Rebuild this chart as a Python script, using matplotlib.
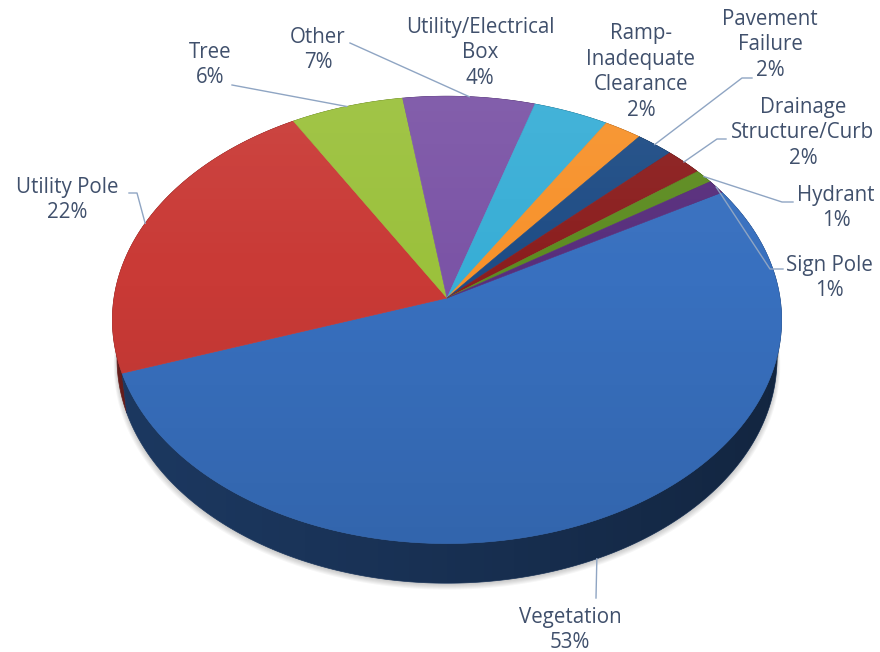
import numpy as np
import matplotlib
matplotlib.use("Agg")
from matplotlib import pyplot as plt
from matplotlib.patches import Polygon
from matplotlib.colors import to_rgb

# slice data, clockwise from the upper right
categories = ["Vegetation", "Utility Pole", "Tree", "Other",
              "Utility/Electrical\nBox", "Ramp-\nInadequate\nClearance",
              "Pavement\nFailure", "Drainage\nStructure/Curb", "Hydrant", "Sign Pole"]
shares = [53, 22, 6, 7, 4, 2, 2, 2, 1, 1]
colors = ["#3870BF", "#C93A36", "#9BC13C", "#7B54A6", "#38AED6",
          "#F7922B", "#1E4C85", "#8B1E1E", "#5D8C21", "#582E7C"]

# label centres and leader elbows (pixels)
label_xy = [(570, 630), (67, 200), (210, 65), (318, 50), (480, 53),
            (641, 72), (770, 45), (803, 133), (836, 208), (829, 278)]
leader_pts = [[(596, 598)], [(129, 193), (137, 193)], [(232, 85)], [(350, 43)], None,
              None, [(752, 78), (742, 78)], [(726, 139), (717, 139)],
              [(793, 202), (782, 202)], [(783, 269), (770, 269)]]

# view / projection of the disk
cx, cy, s = 447, 298, 333
elev = np.radians(41.7)
D = 7.64
h = 0.16
start = 30.0
ce, se = np.cos(elev), np.sin(elev)


def proj(theta_deg, z):
    t = np.radians(theta_deg)
    X, Y = np.cos(t), np.sin(t)
    v = Y * se + z * ce
    d = -Y * ce + z * se
    k = D / (D - d)
    return cx + s * X * k, cy - s * v * k, d


def hull(pts):
    pts = sorted(map(tuple, pts))

    def cross(o, a, b):
        return (a[0] - o[0]) * (b[1] - o[1]) - (a[1] - o[1]) * (b[0] - o[0])
    lo, up = [], []
    for p in pts:
        while len(lo) >= 2 and cross(lo[-2], lo[-1], p) <= 0:
            lo.pop()
        lo.append(p)
    for p in reversed(pts):
        while len(up) >= 2 and cross(up[-2], up[-1], p) <= 0:
            up.pop()
        up.append(p)
    return np.array(lo[:-1] + up[:-1])


fig = plt.figure(figsize=(8.8, 6.52), dpi=100)
ax = fig.add_axes([0, 0, 1, 1])

angles = start - np.cumsum([0] + [p * 3.6 for p in shares])
th = np.linspace(0, 360, 361)
tx, ty, _ = proj(th, 0)
bx, by, _ = proj(th, -h)

# soft shadow under the pie
for i in range(6):
    ax.add_patch(Polygon(np.column_stack([cx + (bx - cx) * (1 + 0.002 * i), by + 1.5 + i]),
                         closed=True, fc="black", ec="none", alpha=0.035, zorder=1))

# outer walls, one polygon per slice, back to front
walls = []
for i, col in enumerate(colors):
    ts = np.linspace(angles[i], angles[i + 1], max(4, int(abs(angles[i] - angles[i + 1])) * 2))
    x0, y0, d0 = proj(ts, 0)
    x1, y1, _ = proj(ts[::-1], -h)
    pts = np.vstack([np.column_stack([x0, y0]), np.column_stack([x1, y1])])
    c = np.array(to_rgb(col)) * 0.5
    walls.append((d0.max(), pts, c))
walls.sort(key=lambda w: w[0])
for _, pts, c in walls:
    ax.add_patch(Polygon(pts, closed=True, fc=c, ec=c, lw=0.5, zorder=2))

# darken the walls towards the right
body = Polygon(hull(np.vstack([np.column_stack([tx, ty]), np.column_stack([bx, by])])),
               closed=True, fc="none", ec="none")
ax.add_patch(body)
side = np.zeros((2, 256, 4))
side[:, :, 3] = np.linspace(0.0, 0.4, 256)[None, :] ** 1.2
im_side = ax.imshow(side, extent=(tx.min(), tx.max(), by.max(), ty.min()),
                    aspect="auto", zorder=2.5, interpolation="bilinear")
im_side.set_clip_path(body)

# top faces
for i, col in enumerate(colors):
    ts = np.linspace(angles[i], angles[i + 1], 200)
    x, y, _ = proj(ts, 0)
    pts = np.vstack([[cx, cy], np.column_stack([x, y])])
    ax.add_patch(Polygon(pts, closed=True, fc=col, ec=col, lw=0.4, zorder=3))

# light-to-dark gloss across the top face
rim = Polygon(np.column_stack([tx, ty]), closed=True, fc="none", ec="none")
ax.add_patch(rim)
grad = np.zeros((256, 2, 4))
g = np.linspace(0, 1, 256)
grad[:, :, :3] = np.where(g < 0.4, 1.0, 0.0)[:, None, None]
grad[:, :, 3] = (np.abs(g - 0.4) * 0.16)[:, None]
im = ax.imshow(grad, extent=(tx.min(), tx.max(), ty.max(), ty.min()),
               aspect="auto", zorder=4, interpolation="bilinear")
im.set_clip_path(rim)

ax.set_xlim(0, 880)
ax.set_ylim(652, 0)
ax.axis("off")

# data labels with leader lines
txt_col = "#40506C"
for i, name in enumerate(categories):
    lx, ly = label_xy[i]
    ax.text(lx, ly, f"{name}\n{shares[i]}%", ha="center", va="center",
            multialignment="center", fontsize=14.8, color=txt_col,
            family="Open Sans", linespacing=1.3, zorder=6)
    if leader_pts[i] is None:
        continue
    mid = (angles[i] + angles[i + 1]) / 2
    z = -h if np.sin(np.radians(mid)) < -0.3 else 0
    ex, ey, _ = proj(mid, z)
    path = leader_pts[i] + [(ex, ey)]
    ax.plot([p[0] for p in path], [p[1] for p in path], color="#8FA5C3",
            lw=1.0, zorder=5)

fig.savefig("out.png", dpi=100, facecolor="white")
